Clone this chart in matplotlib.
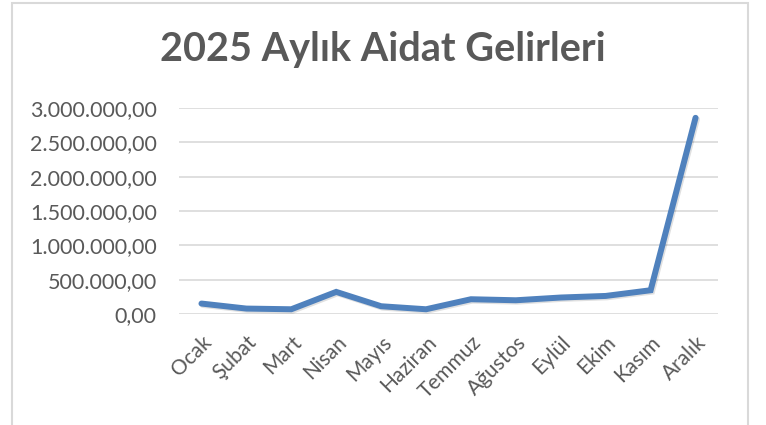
import matplotlib
matplotlib.use("Agg")
import matplotlib.pyplot as plt
import matplotlib.patheffects as pe
from matplotlib.ticker import FuncFormatter, MultipleLocator
from matplotlib.patches import Rectangle

months = ["Ocak", "Şubat", "Mart", "Nisan", "Mayıs", "Haziran", "Temmuz",
          "Ağustos", "Eylül", "Ekim", "Kasım", "Aralık"]
income = [152000, 79000, 69000, 322000, 113000, 69000, 215000,
          200000, 240000, 263000, 346000, 2857000]
title = "2025 Aylık Aidat Gelirleri"

gray = "#595959"
grid = "#D9D9D9"
blue = "#4F81BD"
font = "Lato"

fig = plt.figure(figsize=(7.66, 4.25), dpi=100)
fig.patch.set_facecolor("white")

# outer chart border
fig.patches.append(Rectangle((12/766, -0.05), (748-12)/766, 1.05 - 3/425,
                             transform=fig.transFigure, fill=False,
                             edgecolor=grid, linewidth=1.5))

ax = fig.add_axes([179/766, 1-314/425, (718-179)/766, (314-108)/425])
x = range(len(months))
ax.plot(x, income, color=blue, linewidth=4.3, solid_capstyle="round",
        solid_joinstyle="miter",
        path_effects=[pe.SimpleLineShadow(offset=(1, -1), shadow_color="black", alpha=0.12),
                      pe.Normal()], zorder=3)
ax.set_xlim(-0.5, len(months) - 0.5)
ax.set_ylim(0, 3000000)
ax.yaxis.set_major_locator(MultipleLocator(500000))

def fmt(v, pos):
    s = f"{v:,.2f}"
    return s.replace(",", "X").replace(".", ",").replace("X", ".")

ax.yaxis.set_major_formatter(FuncFormatter(fmt))
ax.grid(axis="y", color=grid, linewidth=1.2)
ax.set_axisbelow(True)
for s in ["top", "right", "left", "bottom"]:
    ax.spines[s].set_visible(False)
ax.tick_params(length=0)
ax.set_xticks(list(x))
ax.set_xticklabels(months, rotation=45, ha="right", rotation_mode="anchor",
                   fontsize=15, color=gray, family=font)
for lab in ax.get_yticklabels():
    lab.set_fontsize(15.5)
    lab.set_color(gray)
    lab.set_family(font)
ax.tick_params(axis="y", pad=16)
ax.tick_params(axis="x", pad=13)

fig.text(0.5, 1-50/425, title, ha="center", va="center", fontsize=28.5,
         fontweight="bold", color=gray, family=font)

fig.savefig("out.png", dpi=100, facecolor="white")
